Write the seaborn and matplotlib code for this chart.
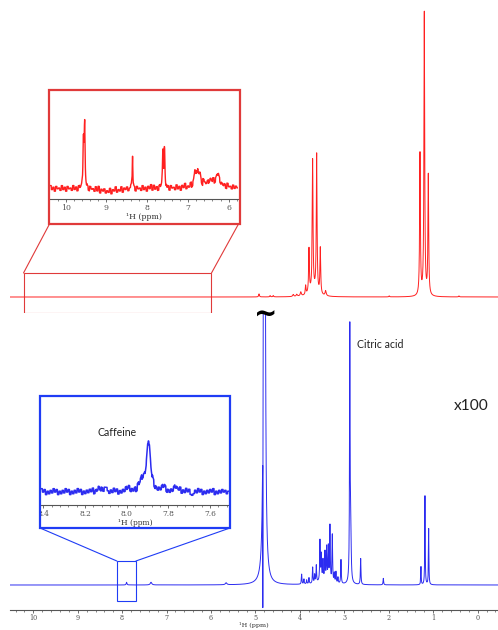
import numpy as np
import pandas as pd
import matplotlib
matplotlib.use("Agg")
import matplotlib.pyplot as plt
from matplotlib.patches import Rectangle, ConnectionPatch
from matplotlib.ticker import MultipleLocator
import seaborn as sns

# ------------------------------------------------------------------ data
# top (red) spectrum: peak list  (ppm, height, width in ppm)
red_ppm = [4.92, 4.67, 4.60, 4.15, 4.07, 3.98, 3.871, 3.796, 3.714, 3.623, 3.541, 3.421, 3.70,
           1.99, 1.298, 1.201, 1.111, 0.42]
red_height = [3, 1.3, 1.3, 2, 2, 4, 9, 44, 130, 138, 46, 5, 6,
              1, 142, 283, 120, 1]
red_width = [0.02, 0.02, 0.02, 0.03, 0.03, 0.03, 0.02, 0.02, 0.02, 0.02, 0.02, 0.03, 0.20,
             0.02, 0.02, 0.02, 0.02, 0.02]

# bottom (blue, x100) spectrum: peak list
blue_ppm = [7.90, 7.35, 5.66, 4.80, 4.835, 3.961, 3.909, 3.848, 3.796, 3.713, 3.668, 3.631,
            3.549, 3.519, 3.481, 3.436, 3.398, 3.361, 3.324, 3.271, 3.226, 3.189, 3.144,
            3.076, 2.877, 2.855, 2.633, 2.123, 1.276, 1.186, 1.103, 3.45]
blue_height = [2.7, 2.7, 2.0, 3000, -183, 10, 5, 4, 6, 16, 8, 17,
               40, 25, 19, 27, 32, 33, 55, 47, 9, 11, 6,
               24, 255, 45, 26, 6.5, 18, 89, 56, 5]
blue_width = [0.02, 0.04, 0.04, 0.0166, 0.002, 0.015, 0.015, 0.015, 0.015, 0.015, 0.015, 0.015,
              0.015, 0.015, 0.015, 0.015, 0.015, 0.015, 0.015, 0.015, 0.015, 0.015, 0.015,
              0.015, 0.015, 0.02, 0.015, 0.015, 0.012, 0.012, 0.012, 0.30]

# red inset (aromatic region, 10.4-5.8 ppm)
red_inset_ppm = [9.565, 9.535, 8.36, 7.615, 7.575, 6.83, 6.76, 6.70, 6.75, 6.45, 6.27, 6.30, 8.95]
red_inset_height = [48, 60, 34, 36, 42, 13, 13, 9, 6, 5, 9, 5, -3]
red_inset_width = [0.025, 0.025, 0.018, 0.025, 0.025, 0.04, 0.04, 0.04, 0.25, 0.10, 0.08, 0.40, 0.60]
red_inset_noise = ("46372548163527461835274690352746183529471638254716302547163829471638"
                   "25471638527461835294618352746193825471638254716382547163825471638")

# blue inset (caffeine region, 8.4-7.5 ppm)
blue_inset_ppm = [7.895, 7.925, 8.135, 7.82, 7.765, 7.99]
blue_inset_height = [50, 10, 4, 4, 4, 3]
blue_inset_width = [0.022, 0.03, 0.02, 0.02, 0.015, 0.02]
blue_inset_noise = ("52647362518473625174836201748362957483625174836251847362517480625174"
                    "836251748362599483625184736251748362517483625174836251748")

main_ticks = list(range(0, 11))
red_inset_ticks = [10, 9, 8, 7, 6]
blue_inset_ticks = [8.4, 8.2, 8.0, 7.8, 7.6]
xlabel = "\u00b9H (ppm)"

# ------------------------------------------------------------------ style
sns.set_style("white")
plt.rcParams["font.family"] = ["DejaVu Serif"]

W, H = 498, 630
RED = "#ff2020"
RED_BOX = "#e03a3a"
BLUE = "#2c2cf0"
BLUE_BOX = "#1f3cf5"
AX_COL = "#555555"


def px_rect(x0, y0, x1, y1):
    return [x0 / W, 1 - y1 / H, (x1 - x0) / W, (y1 - y0) / H]


def lorentz(x, centers, heights, widths):
    c = np.asarray(centers)[None, :]
    h = np.asarray(heights, float)[None, :]
    w = np.asarray(widths)[None, :]
    return (h / (1 + ((x[:, None] - c) / (w / 2)) ** 2)).sum(axis=1)


def spectrum_df(lo, hi, n, centers, heights, widths, noise=None, scale=0.6, rep=6):
    if noise is not None:
        vals = np.array([int(c) for c in noise], float)
        n = len(vals) * rep
        base = np.repeat((vals - 4.5) * scale, rep)
    else:
        base = 0.0
    x = np.linspace(lo, hi, n)
    y = lorentz(x, centers, heights, widths) + base
    return pd.DataFrame({"ppm": x, "intensity": y})


fig = plt.figure(figsize=(W / 100, H / 100), dpi=100)

XL = (10.524, -0.457)

# ---------------- top red spectrum
ax_top = fig.add_axes(px_rect(10, 5, 498, 320))
df_red = spectrum_df(XL[1], XL[0], 22000, red_ppm, red_height, red_width)
sns.lineplot(data=df_red, x="ppm", y="intensity", ax=ax_top, color=RED, linewidth=0.7,
             estimator=None, sort=False)
ax_top.set_xlim(*XL)
ax_top.set_ylim(-23, 292)
ax_top.axis("off")

# ---------------- bottom blue spectrum
ax_bot = fig.add_axes(px_rect(10, 313, 498, 609.5))
df_blue = spectrum_df(XL[1], XL[0], 22000, blue_ppm, blue_height, blue_width)
sns.lineplot(data=df_blue, x="ppm", y="intensity", ax=ax_bot, color=BLUE, linewidth=0.7,
             estimator=None, sort=False)
ax_bot.set_xlim(*XL)
ax_bot.set_ylim(-24.5, 272)
for s in ["top", "left", "right"]:
    ax_bot.spines[s].set_visible(False)
ax_bot.spines["bottom"].set_color(AX_COL)
ax_bot.spines["bottom"].set_linewidth(0.8)
ax_bot.set_yticks([])
ax_bot.set_xticks(main_ticks)
ax_bot.set_xticklabels([str(t) for t in main_ticks])
ax_bot.xaxis.set_minor_locator(MultipleLocator(0.2))
ax_bot.tick_params(axis="x", which="major", direction="out", length=2.0, width=0.6,
                   colors=AX_COL, labelsize=4.7, pad=1.0, bottom=True)
ax_bot.tick_params(axis="x", which="minor", direction="out", length=1.3, width=0.5,
                   colors=AX_COL, bottom=True)
ax_bot.set_xlabel(xlabel, fontsize=4.6, color="#333333", labelpad=0.3)
ax_bot.set_ylabel("")
ax_bot.text(4.78, 270, "~", fontsize=20, fontweight="bold", ha="center", va="center",
            family="DejaVu Sans", color="black")
ax_bot.text(2.716, 241, "Citric acid", fontsize=7.6, ha="left", va="center",
            family="Lato", color="#222222")
ax_bot.text(0.135, 179, "x100", fontsize=11.2, ha="center", va="center",
            family="Lato", color="#222222")


def style_inset(ax, ticks, minor, labels, fs):
    for s in ["top", "left", "right"]:
        ax.spines[s].set_visible(False)
    ax.spines["bottom"].set_color(AX_COL)
    ax.spines["bottom"].set_linewidth(0.8)
    ax.set_yticks([])
    ax.set_xticks(ticks)
    ax.set_xticklabels(labels)
    ax.xaxis.set_minor_locator(MultipleLocator(minor))
    ax.tick_params(axis="x", which="major", direction="out", length=2.5, width=0.6,
                   colors=AX_COL, labelsize=fs, pad=1.2, bottom=True)
    ax.tick_params(axis="x", which="minor", direction="out", length=1.5, width=0.5,
                   colors=AX_COL, bottom=True)
    ax.set_xlabel(xlabel, fontsize=fs, color="#333333", labelpad=0.8)
    ax.set_ylabel("")
    ax.set_facecolor("white")


# ---------------- red inset
RX = (10.385, 5.772)
ax_ri = fig.add_axes(px_rect(50, 92, 238, 199))
df_ri = spectrum_df(RX[1], RX[0], 0, red_inset_ppm, red_inset_height, red_inset_width,
                    noise=red_inset_noise, scale=0.8)
sns.lineplot(data=df_ri, x="ppm", y="intensity", ax=ax_ri, color=RED, linewidth=1.0,
             estimator=None, sort=False)
ax_ri.set_xlim(*RX)
ax_ri.set_ylim(-10.7, 96.3)
style_inset(ax_ri, red_inset_ticks, 0.2, [str(t) for t in red_inset_ticks], 5.6)
fig.add_artist(Rectangle((49 / W, 1 - 223.5 / H), 190.5 / W, 133.5 / H,
                         transform=fig.transFigure, fill=False, ec=RED_BOX, lw=1.6))

# ---------------- blue inset
BX = (8.412, 7.508)
ax_bi = fig.add_axes(px_rect(41, 398, 229, 505))
df_bi = spectrum_df(BX[1], BX[0], 0, blue_inset_ppm, blue_inset_height, blue_inset_width,
                    noise=blue_inset_noise, scale=0.85, rep=6)
sns.lineplot(data=df_bi, x="ppm", y="intensity", ax=ax_bi, color=BLUE, linewidth=1.1,
             estimator=None, sort=False)
ax_bi.set_xlim(*BX)
ax_bi.set_ylim(-13.3, 93.7)
style_inset(ax_bi, blue_inset_ticks, 0.04, [f"{t:.1f}" for t in blue_inset_ticks], 5.4)
ax_bi.text(8.048, 59.7, "Caffeine", fontsize=7.6, ha="center", va="center",
           family="Lato", color="#222222")
# hide the part of the "8.4" label outside the box
fig.add_artist(Rectangle((28 / W, 1 - 522 / H), 11.2 / W, 14 / H,
                         transform=fig.transFigure, fc="white", ec="none", zorder=5))
fig.add_artist(Rectangle((40 / W, 1 - 528 / H), 190 / W, 132 / H,
                         transform=fig.transFigure, fill=False, ec=BLUE_BOX, lw=1.6, zorder=6))

# ---------------- zoom rectangles and connectors
red_zoom = (10.22, 5.99)
ax_top.add_patch(Rectangle((red_zoom[1], -16), red_zoom[0] - red_zoom[1], 40,
                           fill=False, ec=RED_BOX, lw=0.8))
for (fx, fy), zx in [((49.5, 224), red_zoom[0]), ((238.5, 224), red_zoom[1])]:
    fig.add_artist(ConnectionPatch(xyA=(fx, H - fy), coordsA="figure pixels",
                                   xyB=(zx, 24), coordsB=ax_top.transData,
                                   color=RED_BOX, lw=0.8))

blue_zoom = (8.12, 7.69)
ax_bot.add_patch(Rectangle((blue_zoom[1], -15.5), blue_zoom[0] - blue_zoom[1], 39.5,
                           fill=False, ec=BLUE_BOX, lw=0.8))
for (fx, fy), zx in [((40, 528), blue_zoom[0]), ((230, 528), blue_zoom[1])]:
    fig.add_artist(ConnectionPatch(xyA=(fx, H - fy), coordsA="figure pixels",
                                   xyB=(zx, 24), coordsB=ax_bot.transData,
                                   color=BLUE_BOX, lw=0.8))

fig.savefig("out.png", dpi=100, facecolor="white")
